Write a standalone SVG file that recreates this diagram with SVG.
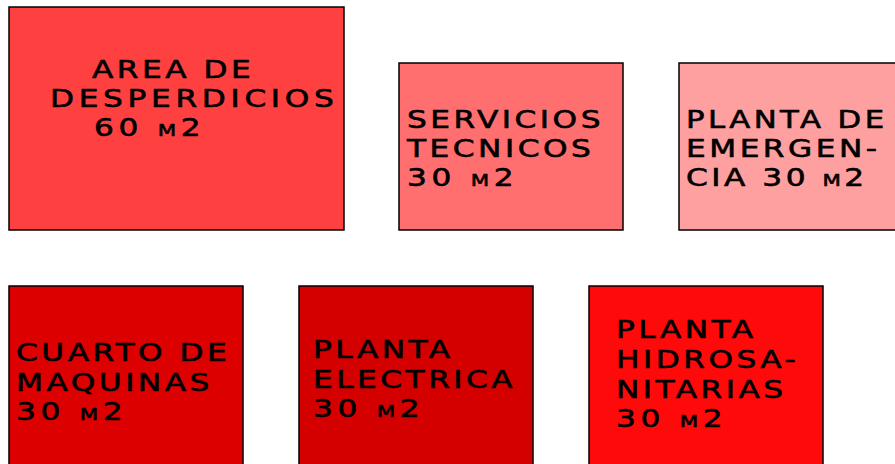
<svg xmlns="http://www.w3.org/2000/svg" width="895" height="464" viewBox="0 0 895 464">
<style>
.box{stroke:#000;stroke-width:1.5}
.t{font-family:"DejaVu Sans",sans-serif;font-size:24px;letter-spacing:2.7px;fill:#000;font-variant:small-caps;stroke:#000;stroke-width:0.6}
.w{letter-spacing:3.6px}
</style>
<rect width="895" height="464" fill="#fff"/>
<g id="area-desperdicios">
<rect class="box" x="9" y="7" width="335" height="223" fill="#FF4040"/>
<text class="t" transform="translate(92 78) scale(1.3 1)">AREA DE</text>
<text class="t w" transform="translate(50 107) scale(1.3 1)">DESPERDICIOS</text>
<text class="t w" transform="translate(94 136) scale(1.3 1)">60 m2</text>
</g>
<g id="servicios-tecnicos">
<rect class="box" x="399" y="63" width="224" height="167" fill="#FF6F6F"/>
<text class="t" transform="translate(407 128) scale(1.3 1)">SERVICIOS</text>
<text class="t" transform="translate(407 157) scale(1.3 1)">TECNICOS</text>
<text class="t w" transform="translate(407 186) scale(1.3 1)">30 m2</text>
</g>
<g id="planta-emergencia">
<rect class="box" x="679" y="63" width="230" height="167" fill="#FFA0A0"/>
<text class="t" transform="translate(686 128) scale(1.28 1)">PLANTA DE</text>
<text class="t" transform="translate(686 157) scale(1.3 1)">EMERGEN-</text>
<text class="t" transform="translate(686 186) scale(1.3 1)">CIA 30 m2</text>
</g>
<g id="cuarto-maquinas">
<rect class="box" x="9" y="286" width="234" height="190" fill="#DD0000"/>
<text class="t" transform="translate(16 361) scale(1.3 1)">CUARTO DE</text>
<text class="t" transform="translate(16 391) scale(1.3 1)">MAQUINAS</text>
<text class="t w" transform="translate(16 420) scale(1.3 1)">30 m2</text>
</g>
<g id="planta-electrica">
<rect class="box" x="299" y="286" width="234" height="190" fill="#D40000"/>
<text class="t" transform="translate(313 358) scale(1.3 1)">PLANTA</text>
<text class="t" transform="translate(313 388) scale(1.3 1)">ELECTRICA</text>
<text class="t w" transform="translate(313 417) scale(1.3 1)">30 m2</text>
</g>
<g id="planta-hidrosanitarias">
<rect class="box" x="589" y="286" width="234" height="190" fill="#FF0A0A"/>
<text class="t" transform="translate(616 338) scale(1.3 1)">PLANTA</text>
<text class="t" transform="translate(616 368) scale(1.3 1)">HIDROSA-</text>
<text class="t" transform="translate(616 398) scale(1.3 1)">NITARIAS</text>
<text class="t w" transform="translate(616 427) scale(1.3 1)">30 m2</text>
</g>
<g id="connectors"/>
</svg>
